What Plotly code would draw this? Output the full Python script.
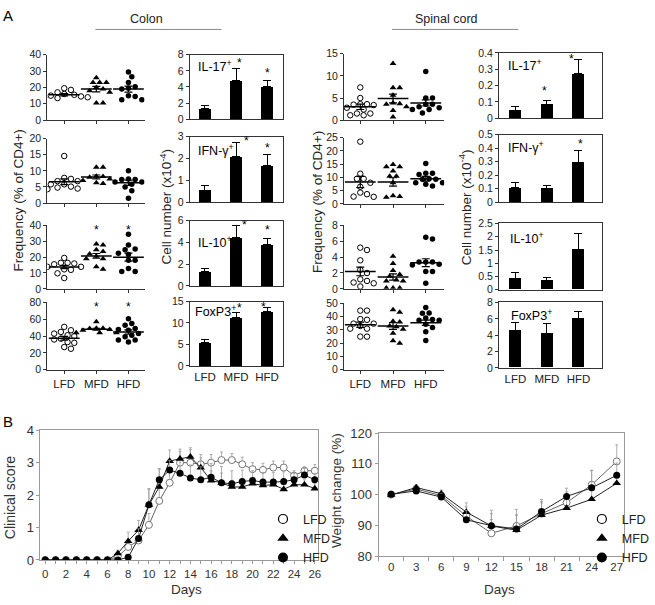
import numpy as np
import plotly.graph_objects as go

W, H = 655, 605
FONT = "Liberation Sans, Arial, sans-serif"
GROUPS = ["LFD", "MFD", "HFD"]

# ---------------- Panel A : colon, frequency (% of CD4+) ----------------
colon_il17_freq = [[19.5, 18.5, 17, 16, 15.5, 15, 14.5, 14, 13.5, 13.5, 14],
                   [26, 23, 23, 23, 20, 19, 18, 17, 10.5, 10.5],
                   [29.5, 26.5, 23, 20.5, 19.5, 19, 15, 14.5, 12.5, 12.5]]
colon_ifng_freq = [[14.6, 7.8, 7.5, 6.8, 6.8, 5.8, 5.8, 5.1, 4.8, 4.5, 4.3],
                   [11.1, 11.1, 8.3, 8.2, 8.0, 7.5, 7.0, 6.3, 6.1],
                   [10, 7.5, 7.3, 7.3, 6.5, 6.5, 5.8, 5, 3.8, 1.5]]
colon_il10_freq = [[19.5, 16.4, 16.4, 16, 15.5, 13.9, 13.9, 12.3, 12, 9.8, 6.8],
                   [28.3, 27.7, 24.6, 23.6, 22, 20.5, 19, 19, 13.9, 12.3],
                   [34.5, 27.7, 25.2, 24.6, 22.5, 21.7, 18, 18, 12.9, 10.9, 10.9]]
colon_foxp3_freq = [[51, 47, 45, 43, 41, 40, 37, 36, 33, 32, 27, 25],
                    [57, 49.5, 49.5, 49, 48, 47, 44, 44, 44],
                    [60.6, 55, 53, 49, 48, 47, 43, 41, 39.4, 35.5, 35.5, 33]]
colon_freq_mean = [[15.5, 19.0, 19.0], [6.6, 8.1, 6.3], [13.8, 20.8, 20.0], [37.5, 48.2, 45.0]]
colon_freq_sem = [[0.7, 1.7, 1.8], [0.9, 0.6, 0.8], [1.0, 1.5, 2.5], [2.3, 1.2, 2.5]]
colon_freq_sig = [[], [], [1, 2], [1, 2]]
colon_freq_max = [40, 20, 40, 80]
colon_freq_dtick = [10, 5, 10, 20]

# ---------------- Panel A : colon, cell number (x10^-4) ----------------
colon_cell_mean = [[1.35, 4.8, 4.05], [0.55, 2.1, 1.67], [1.28, 4.44, 3.78], [5.45, 11.35, 12.6]]
colon_cell_err = [[0.3, 1.45, 0.8], [0.2, 0.63, 0.5], [0.3, 1.14, 0.6], [0.6, 1.15, 0.95]]
colon_cell_sig = [[1, 2], [1, 2], [1, 2], [1, 2]]
colon_cell_max = [8, 3, 6, 15]
colon_cell_dtick = [2, 1, 2, 5]

# ---------------- Panel A : spinal cord, frequency ----------------
sc_il17_freq = [[7.4, 5, 3.6, 3.6, 3.5, 3.4, 2.8, 2.4, 1.5, 1.5, 1.1, 1.1],
                [12.8, 7.3, 7.3, 5.6, 3.9, 3.7, 3.6, 3.0, 2.2, 0.7],
                [11, 5, 5, 3.6, 3.6, 3, 2.8, 2.4, 2.4, 1.6]]
sc_ifng_freq = [[23.5, 11.4, 9.5, 9.5, 8, 6.5, 4.3, 3.7, 2.8, 2.7],
                [14.9, 14, 14, 12.4, 10.5, 10.5, 8, 3.1, 2.8, 2.5],
                [15.3, 11.6, 11.6, 11.1, 9.5, 9.3, 9.3, 8, 8, 7.4, 6.8]]
sc_il10_freq = [[5.2, 4.9, 3.6, 2.4, 2.0, 1.2, 1.0, 0.8, 0.7, 0.3],
                [4.1, 3.2, 2.3, 1.8, 1.6, 1.1, 1.0, 1.0, 0.1, 0.1, 0.1],
                [6.5, 6.3, 3.4, 3.4, 3.4, 3.1, 3.0, 2.2, 2.2, 0.7]]
sc_foxp3_freq = [[44.6, 44.6, 38.2, 37.7, 34.8, 34.8, 33, 31, 31, 25, 25],
                 [45.3, 43.4, 36.5, 36, 33, 32.4, 30.6, 27.5, 21.8, 20],
                 [47, 42.9, 42.6, 39, 38, 37.3, 37.3, 34.3, 31.9, 28.7, 22]]
sc_freq_mean = [[3.0, 4.9, 3.9], [8.3, 8.3, 9.5], [2.2, 1.5, 3.3], [34.0, 33.0, 35.5]]
sc_freq_sem = [[0.6, 1.0, 0.7], [2.1, 1.6, 0.9], [0.55, 0.4, 0.5], [2.0, 2.5, 2.0]]
sc_freq_max = [15, 25, 8, 50]
sc_freq_dtick = [5, 5, 2, 10]

# ---------------- Panel A : spinal cord, cell number ----------------
sc_cell_mean = [[0.049, 0.085, 0.272], [0.109, 0.104, 0.297], [0.44, 0.36, 1.51], [4.6, 4.2, 6.0]]
sc_cell_err = [[0.02, 0.023, 0.088], [0.036, 0.016, 0.085], [0.23, 0.11, 0.61], [1.0, 1.2, 0.9]]
sc_cell_sig = [[1, 2], [2], [], []]
sc_cell_max = [0.4, 0.5, 2.5, 8]
sc_cell_dtick = [0.1, 0.1, 0.5, 2]

cell_labels = ["IL-17<sup>+</sup>", "IFN-γ<sup>+</sup>", "IL-10<sup>+</sup>", "FoxP3<sup>+</sup>"]

# ---------------- Panel B : clinical score ----------------
score_days = list(range(27))
score_lfd = [0, 0, 0, 0, 0, 0, 0, 0.1, 0.4, 0.6, 1.08, 1.82, 2.38, 3.0, 3.0, 2.95, 3.0,
             3.08, 3.08, 2.95, 2.8, 2.78, 2.85, 2.85, 2.6, 2.75, 2.75]
score_lfd_err = [0, 0, 0, 0, 0, 0, 0, 0.05, 0.1, 0.3, 0.35, 0.4, 0.45, 0.35, 0.4, 0.3, 0.25,
                 0.25, 0.2, 0.22, 0.2, 0.2, 0.2, 0.2, 0.15, 0.12, 0.19]
score_mfd = [0, 0, 0, 0, 0, 0, 0, 0.2, 0.58, 0.92, 1.7, 2.25, 3.05, 3.12, 3.18, 2.85, 2.45,
             2.38, 2.25, 2.25, 2.35, 2.3, 2.32, 2.18, 2.32, 2.32, 2.2]
score_mfd_err = [0, 0, 0, 0, 0, 0, 0, 0.1, 0.28, 0.3, 0.48, 0.55, 0.34, 0.3, 0.28, 0.3, 0.3,
                 0.3, 0.2, 0.2, 0.15, 0.15, 0.15, 0.15, 0.15, 0.15, 0.15]
score_hfd = [0, 0, 0, 0, 0, 0, 0, 0, 0.08, 0.66, 1.7, 2.47, 2.77, 2.67, 2.53, 2.47, 2.55,
             2.38, 2.35, 2.42, 2.45, 2.4, 2.4, 2.42, 2.47, 2.62, 2.47]
score_hfd_err = [0, 0, 0, 0, 0, 0, 0, 0, 0.05, 0.3, 0.5, 0.35, 0.3, 0.35, 0.4, 0.4, 0.42,
                 0.5, 0.4, 0.35, 0.3, 0.3, 0.3, 0.3, 0.2, 0.2, 0.2]

# ---------------- Panel B : weight change ----------------
weight_days = [0, 3, 6, 9, 12, 15, 18, 21, 24, 27]
weight_lfd = [100, 101.8, 99.7, 93.0, 87.4, 89.8, 93.8, 97.4, 103.2, 110.8]
weight_lfd_err = [0.5, 1.2, 1.5, 3.0, 4.5, 5.4, 4.0, 3.5, 4.7, 5.4]
weight_mfd = [99.9, 102.3, 100.3, 94.3, 89.8, 88.4, 93.3, 95.6, 98.5, 103.7]
weight_mfd_err = [0.4, 0.9, 1.2, 3.0, 4.0, 5.0, 4.0, 3.0, 4.0, 3.0]
weight_hfd = [100.1, 101.2, 99.2, 91.8, 89.9, 88.8, 94.5, 99.4, 102.2, 106.3]
weight_hfd_err = [0.5, 0.8, 1.2, 3.0, 5.0, 4.5, 3.9, 2.7, 5.7, 4.0]

# =====================================================================
fig = go.Figure()
layout = {}
annotations = []
shapes = []
axn = [0]


def px_x(a):
    return a / W


def px_y(a):
    return 1 - a / H


def new_axes(x0, x1, y0, y1, xcfg, ycfg):
    axn[0] += 1
    n = axn[0]
    s = "" if n == 1 else str(n)
    layout["xaxis" + s] = dict(domain=[px_x(x0), px_x(x1)], anchor="y" + s, **xcfg)
    layout["yaxis" + s] = dict(domain=[px_y(y1), px_y(y0)], anchor="x" + s, **ycfg)
    return "x" + s, "y" + s


def swarm(vals, px_per_unit, px_per_cat, diam=5.8):
    vals = np.asarray(vals, float)
    order = np.argsort(-vals)
    placed = []
    offs = np.zeros(len(vals))
    step = diam * 0.6
    for i in order:
        y = vals[i] * px_per_unit
        cand = 0.0
        for k in range(60):
            cand = 0.0 if k == 0 else ((k + 1) // 2) * step * (1 if k % 2 else -1)
            if all((cand - px) ** 2 + (y - py) ** 2 >= diam ** 2 for px, py in placed):
                break
        placed.append((cand, y))
        offs[i] = cand / px_per_cat
    return offs


AX = "#333333"
tickfontA = dict(family=FONT, size=10.5, color="#222")
symbols = [dict(symbol="circle", color="white", line=dict(color="black", width=1), size=5.5),
           dict(symbol="triangle-up", color="black", line=dict(width=0), size=6),
           dict(symbol="circle", color="black", line=dict(width=0), size=5.5)]


def scatter_panel(x0, x1, y0, y1, xr, data, mean, sem, ymax, dtick, sig, last):
    xa, ya = new_axes(
        x0, x1, y0, y1,
        dict(range=xr, tickvals=[0, 1, 2], ticktext=GROUPS, showticklabels=last,
             ticks="outside", ticklen=3, tickcolor=AX, showline=True, linecolor=AX,
             linewidth=1, showgrid=False, zeroline=False, tickfont=dict(family=FONT, size=11.5, color="#222")),
        dict(range=[0, ymax], dtick=dtick, ticks="outside", ticklen=3, tickcolor=AX,
             showline=True, linecolor=AX, linewidth=1, showgrid=False, zeroline=False,
             tickfont=tickfontA))
    ppu = (y1 - y0) / ymax
    ppc = (x1 - x0) / (xr[1] - xr[0])
    for g in range(3):
        offs = swarm(data[g], ppu, ppc)
        fig.add_trace(go.Scatter(x=g + offs, y=data[g], mode="markers", marker=symbols[g],
                                 xaxis=xa, yaxis=ya, showlegend=False, hoverinfo="skip"))
    fig.add_trace(go.Scatter(
        x=[0, 1, 2], y=mean, mode="markers", xaxis=xa, yaxis=ya, showlegend=False,
        marker=dict(symbol="line-ew", size=22, line=dict(color="black", width=1.5)),
        error_y=dict(type="data", array=sem, color="black", thickness=1.2, width=4)))
    for g in sig:
        annotations.append(dict(x=g, y=0.93, xref=xa, yref=ya + " domain", text="*",
                                showarrow=False, font=dict(family=FONT, size=12, color="black"),
                                yanchor="middle"))


def bar_panel(x0, x1, y0, y1, xr, mean, err, ymax, dtick, sig, label, lab_off, stars, last):
    xa, ya = new_axes(
        x0, x1, y0, y1,
        dict(range=xr, tickvals=[0, 1, 2], ticktext=GROUPS, showticklabels=last,
             ticks="", showline=True, mirror=True, linecolor=AX, linewidth=1,
             showgrid=False, zeroline=False, tickfont=dict(family=FONT, size=11.5, color="#222")),
        dict(range=[0, ymax], dtick=dtick, ticks="outside", ticklen=3, tickcolor=AX,
             showline=True, mirror=True, linecolor=AX, linewidth=1, showgrid=False,
             zeroline=False, tickfont=tickfontA))
    fig.add_trace(go.Bar(
        x=[0, 1, 2], y=mean, width=0.38, marker=dict(color="black", line=dict(width=0)),
        xaxis=xa, yaxis=ya, showlegend=False,
        error_y=dict(type="data", symmetric=False, array=err, arrayminus=[0, 0, 0],
                     color="black", thickness=1, width=4)))
    annotations.append(dict(x=px_x(x0 + lab_off[0]), y=px_y(y0 + lab_off[1]), xref="paper",
                            yref="paper", text=label, showarrow=False, xanchor="left",
                            yanchor="middle", font=dict(family=FONT, size=12.5, color="black")))
    for g, (dx, dy) in zip(sig, stars):
        annotations.append(dict(x=g, y=mean[g] + err[g], xref=xa, yref=ya, text="*",
                                showarrow=False, yanchor="bottom", xshift=dx, yshift=dy - 10,
                                font=dict(family=FONT, size=12, color="black")))


# --- geometry (pixels) ---
colon_sc_rows = [(49, 116), (135, 201), (224, 289), (303, 372)]
colon_bar_rows = [(49, 115), (133, 200), (219, 286), (302, 368)]
sc_sc_rows = [(48, 116), (134, 202), (224, 289), (304, 372)]
sc_bar_rows = [(47, 114), (131, 200), (222, 290), (303, 370)]
colon_lab = [(6, 12), (6, 14), (6, 22), (3, 10)]
sc_lab = [(7, 12), (7, 13), (9, 15), (10, 13)]
colon_stars = [[(3, 7), (0, 8)], [(10, 3), (0, 8)], [(8, 1), (0, 9)], [(3, 5), (-4, 2)]]
sc_stars = [[(-2, 11), (-7, 1)], [(2, 8)], [], []]

colon_freq = [colon_il17_freq, colon_ifng_freq, colon_il10_freq, colon_foxp3_freq]
sc_freq = [sc_il17_freq, sc_ifng_freq, sc_il10_freq, sc_foxp3_freq]

for r in range(4):
    last = r == 3
    scatter_panel(49, 150, *colon_sc_rows[r], [-0.53, 2.5], colon_freq[r], colon_freq_mean[r],
                  colon_freq_sem[r], colon_freq_max[r], colon_freq_dtick[r], colon_freq_sig[r], last)
    bar_panel(197, 294, *colon_bar_rows[r], [-0.49, 2.52], colon_cell_mean[r], colon_cell_err[r],
              colon_cell_max[r], colon_cell_dtick[r], colon_cell_sig[r], cell_labels[r],
              colon_lab[r], colon_stars[r], last)
    scatter_panel(357, 461, *sc_sc_rows[r], [-0.5, 2.56], sc_freq[r], sc_freq_mean[r],
                  sc_freq_sem[r], sc_freq_max[r], sc_freq_dtick[r], [], last)
    bar_panel(518, 625, *sc_bar_rows[r], [-0.52, 2.75], sc_cell_mean[r], sc_cell_err[r],
              sc_cell_max[r], sc_cell_dtick[r], sc_cell_sig[r], cell_labels[r],
              sc_lab[r], sc_stars[r], last)

# --- Panel B ---
GR = "#9a9a9a"
tickfontB = dict(family=FONT, size=11.5, color="#333")
xb1, yb1 = new_axes(
    42, 330, 434, 567,
    dict(range=[-0.46, 26.3], tick0=0, dtick=2, ticks="outside", ticklen=3, tickcolor=GR,
         minor=dict(dtick=1, ticks="outside", ticklen=3, tickcolor=GR),
         showline=True, mirror=True, linecolor=GR, linewidth=1, showgrid=False, zeroline=False,
         tickfont=tickfontB),
    dict(range=[0, 4], dtick=1, ticks="outside", ticklen=3, tickcolor=GR, showline=True,
         mirror=True, linecolor=GR, linewidth=1, showgrid=False, zeroline=False,
         tickfont=dict(family=FONT, size=13, color="#333")))
xb2, yb2 = new_axes(
    393, 648, 437, 563,
    dict(range=[-1.5, 27.9], tickvals=weight_days, ticks="",
         minor=dict(tick0=1.5, dtick=3, ticks="outside", ticklen=4, tickcolor=GR),
         showline=True, mirror=True, linecolor=GR, linewidth=1, showgrid=False, zeroline=False,
         tickfont=tickfontB),
    dict(range=[80, 120], dtick=10, ticks="outside", ticklen=3, tickcolor=GR, showline=True,
         mirror=True, linecolor=GR, linewidth=1, showgrid=False, zeroline=False,
         tickfont=dict(family=FONT, size=13, color="#333")))

bsym = [dict(symbol="circle", color="white", size=7, line=dict(color="#777", width=1)),
        dict(symbol="triangle-up", color="black", size=7.5, line=dict(width=0)),
        dict(symbol="circle", color="black", size=7, line=dict(width=0))]
blines = ["#666", "#222", "#222"]
legsym = [dict(symbol="circle", color="white", size=9, line=dict(color="black", width=1.2)),
          dict(symbol="triangle-up", color="black", size=10, line=dict(width=0)),
          dict(symbol="circle", color="black", size=10, line=dict(width=0))]

score_series = [(score_lfd, score_lfd_err), (score_mfd, score_mfd_err), (score_hfd, score_hfd_err)]
weight_series = [(weight_lfd, weight_lfd_err), (weight_mfd, weight_mfd_err), (weight_hfd, weight_hfd_err)]
for g in range(3):
    v, e = score_series[g]
    fig.add_trace(go.Scatter(
        x=score_days, y=v, mode="lines+markers", xaxis=xb1, yaxis=yb1, showlegend=False,
        line=dict(color=blines[g], width=1), marker=bsym[g],
        error_y=dict(type="data", symmetric=False, array=e, arrayminus=[0] * len(e),
                     color=GR, thickness=0.8, width=1.5)))
    v, e = weight_series[g]
    fig.add_trace(go.Scatter(
        x=weight_days, y=v, mode="lines+markers", xaxis=xb2, yaxis=yb2, showlegend=False,
        line=dict(color=blines[g], width=1), marker=bsym[g],
        error_y=dict(type="data", symmetric=False, array=e, arrayminus=[0] * len(e),
                     color=GR, thickness=0.8, width=1.5)))
for g in range(3):
    fig.add_trace(go.Scatter(x=[None], y=[None], mode="markers", name=GROUPS[g], marker=legsym[g],
                             xaxis=xb1, yaxis=yb1, legend="legend"))
    fig.add_trace(go.Scatter(x=[None], y=[None], mode="markers", name=GROUPS[g], marker=legsym[g],
                             xaxis=xb2, yaxis=yb2, legend="legend2"))

legfont = dict(family=FONT, size=12.5, color="#222")
layout["legend"] = dict(x=px_x(273), y=px_y(510), xanchor="left", yanchor="top",
                        bgcolor="rgba(0,0,0,0)", font=legfont, itemwidth=30, tracegroupgap=0)
layout["legend2"] = dict(x=px_x(604), y=px_y(510), xanchor="left", yanchor="top",
                         bgcolor="rgba(0,0,0,0)", font=legfont, itemwidth=30, tracegroupgap=0)


def text(x, y, t, size, angle=0, color="#222", xanchor="center"):
    annotations.append(dict(x=px_x(x), y=px_y(y), xref="paper", yref="paper", text=t,
                            showarrow=False, textangle=angle, xanchor=xanchor, yanchor="middle",
                            font=dict(family=FONT, size=size, color=color)))


text(8, 9, "A", 15, color="black")
text(8, 425, "B", 15, color="black")
text(152, 12, "Colon", 12.5)
text(463, 12, "Spinal cord", 12.5)
shapes.append(dict(type="line", xref="paper", yref="paper", x0=px_x(99), x1=px_x(230),
                   y0=px_y(23), y1=px_y(23), line=dict(color="#888", width=1)))
shapes.append(dict(type="line", xref="paper", yref="paper", x0=px_x(407), x1=px_x(538),
                   y0=px_y(23), y1=px_y(23), line=dict(color="#888", width=1)))
text(19, 198, "Frequency (% of CD4+)", 13.5, -90)
text(172, 205, "Cell number (x10<sup>-4</sup>)", 13.5, -90)
text(329, 200, "Frequency (% of CD4+)", 13.5, -90)
text(483, 205, "Cell number (x10<sup>-4</sup>)", 13.5, -90)
text(10, 503, "Clinical score", 14, -90, "#333")
text(194, 597, "Days", 13.5, 0, "#333")
text(350, 496, "Weight change (%)", 13.5, -90, "#333")
text(518, 597, "Days", 13.5, 0, "#333")

layout.update(dict(width=W, height=H, autosize=False, margin=dict(l=0, r=0, t=0, b=0),
                   paper_bgcolor="white", plot_bgcolor="rgba(0,0,0,0)",
                   font=dict(family=FONT), annotations=annotations, shapes=shapes,
                   bargap=0))
fig.update_layout(**layout)
fig.write_html("out.html", config={"displayModeBar": False},
               post_script="document.body.style.margin='0';document.body.style.overflow='hidden';")
